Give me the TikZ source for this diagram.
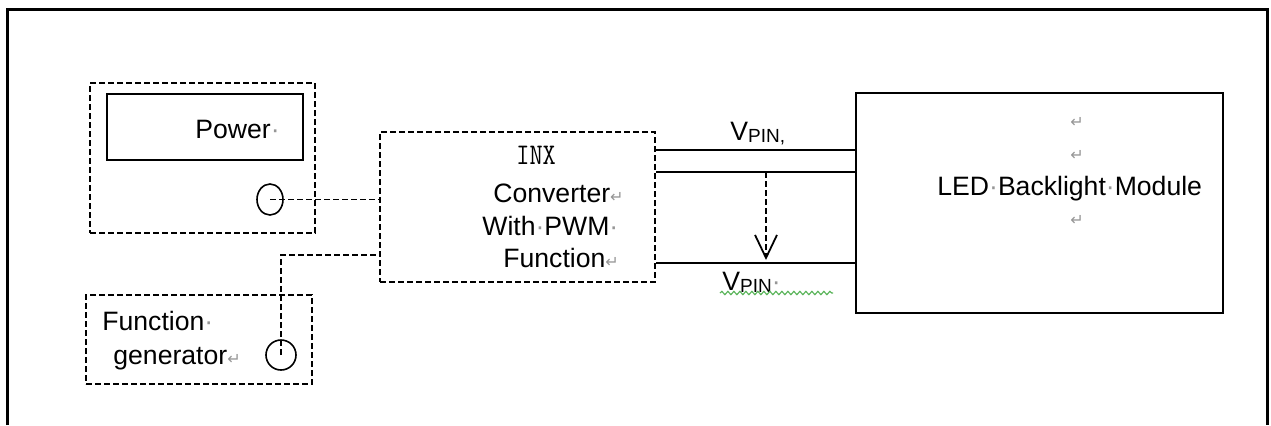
\documentclass[tikz,border=0pt]{standalone}
\usepackage{fontspec}
\setmainfont{Liberation Sans}
\newfontfamily\marksfont{DejaVu Sans}
\newfontfamily\inxfont{Latin Modern Mono}
\usetikzlibrary{fit,shapes.geometric,arrows.meta,decorations.pathmorphing}
\definecolor{markgray}{RGB}{150,150,150}
\definecolor{spellgreen}{RGB}{90,180,90}
% formatting marks: space dot and paragraph return
\newcommand\fmdot{{\color{markgray}\char"00B7}}
\newcommand\fmret{{\marksfont\fontsize{8pt}{8pt}\selectfont\color{markgray}\char"21B5}}
\tikzset{
  dbox/.style={draw, line width=1pt, dash pattern=on 2.8pt off 1.7pt, inner sep=0pt, fit={#1}},
  sbox/.style={draw, line width=0.8pt, inner sep=0pt, fit={#1}},
  jack/.style={draw, line width=0.8pt, ellipse, inner sep=0pt},
  txt/.style={inner sep=0pt, anchor=base west},
  wire/.style={line width=0.8pt},
  dwire/.style={line width=0.9pt, dash pattern=on 2.8pt off 1.7pt},
}
\begin{document}
\begin{tikzpicture}[x=0.5pt, y=-0.5pt, font=\fontsize{13.3pt}{16pt}\selectfont]
\useasboundingbox (0,0) rectangle (1271,425);

% open frame round the set-up
\draw[line width=1.5pt] (7.5,425) -- (7.5,9.5) -- (1267.5,9.5) -- (1267.5,425);

% power supply
\node[dbox={(90,83) (315,233)}] (pwr) {};
\node[sbox={(107,94) (303,160)}] (pwrpanel) {};
\node[txt] (pwrlbl) at (195,138) {Power\fmdot};
\node[jack, minimum width=13pt, minimum height=15.5pt] (pwrjack) at (270,199.5) {};

% function generator
\node[dbox={(86,295) (312,384)}] (fg) {};
\node[txt] (fglbl1) at (102,330) {Function\fmdot};
\node[txt] (fglbl2) at (113,364) {generator\fmret};
\node[jack, minimum width=15pt, minimum height=15pt] (fgjack) at (281,355) {};

% converter
\node[dbox={(380,132) (655,282)}] (conv) {};
\node[txt] (inx) at (516,164) {\scalebox{0.85}[1]{\inxfont\fontsize{15pt}{15pt}\selectfont INX}};
\node[txt] (conv1) at (493,202) {Converter\fmret};
\node[txt] (conv2) at (482,235) {With\fmdot PWM\fmdot};
\node[txt] (conv3) at (503,267) {Function\fmret};

% LED backlight module
\node[sbox={(856,93) (1223,313)}] (led) {};
\node[txt] (ledlbl) at (937,195) {LED\fmdot Backlight\fmdot Module};
\node[inner sep=0pt] (ret1) at (1077,122) {\fmret};
\node[inner sep=0pt] (ret2) at (1077,155) {\fmret};
\node[inner sep=0pt] (ret3) at (1077,220) {\fmret};

% signal levels
\coordinate (ya) at (0,150);
\coordinate (yb) at (0,172);
\coordinate (yc) at (0,263);
\coordinate (yfg) at (0,255);
\coordinate (tap) at (766,172);
\coordinate (tipend) at (766,260);

% wiring
\draw[dwire] (pwrjack.center) -- (conv.west |- pwrjack.center);
\draw[dwire] (fgjack.center) |- (conv.west |- yfg);
\draw[wire] (conv.east |- ya) -- (led.west |- ya);
\draw[wire] (conv.east |- yb) -- (led.west |- yb);
\draw[wire] (conv.east |- yc) -- (led.west |- yc);
\draw[dwire, -{Straight Barb[length=11.5pt, width=11pt]}] (tap) -- (tipend);

% voltage labels
\node[txt] (vhi) at (730,140) {V\raisebox{-1pt}{\fontsize{9.5pt}{9.5pt}\selectfont PIN,}};
\node[txt] (vlo) at (722,290) {V\raisebox{-1pt}{\fontsize{9.5pt}{9.5pt}\selectfont PIN}\fmdot};
\draw[spellgreen, line width=0.6pt, decorate, decoration={snake, amplitude=0.8pt, segment length=3pt}] (720,293) -- (833,293);
\end{tikzpicture}
\end{document}
